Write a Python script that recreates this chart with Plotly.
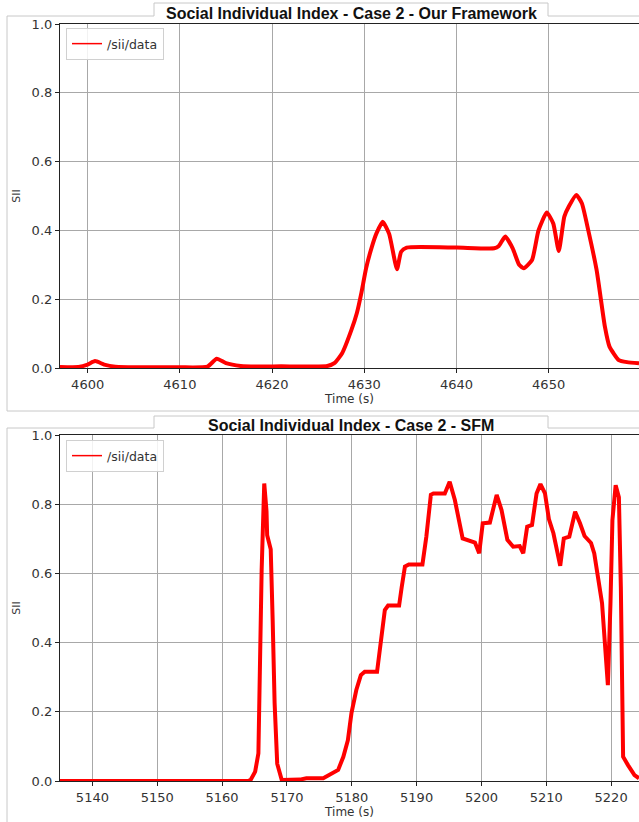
import plotly.graph_objects as go

# ---- data: top panel (Our Framework) ----
t_ours = [4597.0, 4599.0, 4600.0, 4600.8, 4601.8, 4603.0, 4606.0, 4610.0, 4613.0, 4614.0,
          4615.0, 4616.6, 4619.0, 4621.0, 4623.0, 4626.0, 4626.8, 4627.6, 4628.6, 4629.2,
          4629.7, 4630.2, 4630.8, 4631.3, 4632.0, 4632.7, 4633.55, 4634.0, 4634.6, 4640.0,
          4644.1, 4644.6, 4645.3, 4646.1, 4646.8, 4647.3, 4648.2, 4648.9, 4649.8, 4650.5,
          4651.1, 4651.7, 4652.2, 4653.0, 4653.6, 4654.3, 4655.2, 4656.1, 4656.6, 4657.6,
          4658.5, 4659.8]
sii_ours = [0.003, 0.003, 0.010, 0.020, 0.010, 0.004, 0.002, 0.002, 0.004, 0.027,
            0.014, 0.006, 0.004, 0.005, 0.004, 0.006, 0.015, 0.043, 0.110, 0.160,
            0.220, 0.290, 0.350, 0.390, 0.425, 0.390, 0.287, 0.338, 0.350, 0.350,
            0.348, 0.355, 0.382, 0.348, 0.300, 0.290, 0.314, 0.400, 0.452, 0.420,
            0.340, 0.440, 0.470, 0.503, 0.479, 0.400, 0.285, 0.120, 0.062, 0.023,
            0.017, 0.014]

# ---- data: bottom panel (SFM) ----
t_sfm = [5135.0, 5164.0, 5164.4, 5165.1, 5165.6, 5165.8, 5166.1, 5166.5, 5166.85, 5166.95,
         5167.5, 5167.8, 5168.1, 5168.5, 5169.2, 5172.0, 5173.0, 5175.6, 5176.9, 5177.9,
         5178.7, 5179.4, 5179.95, 5180.7, 5181.4, 5182.0, 5183.9, 5184.4, 5185.1, 5185.6,
         5187.3, 5187.7, 5188.2, 5188.8, 5190.9, 5191.5, 5192.2, 5192.6, 5194.35, 5195.1,
         5195.9, 5197.1, 5199.0, 5199.65, 5200.2, 5201.3, 5202.35, 5203.1, 5204.0, 5204.9,
         5205.9, 5206.45, 5207.05, 5207.8, 5208.5, 5209.1, 5209.8, 5210.4, 5211.1, 5212.15,
         5212.7, 5213.55, 5214.45, 5215.2, 5215.9, 5216.9, 5217.4, 5218.6, 5219.1, 5219.5,
         5219.9, 5220.2, 5220.7, 5221.2, 5221.5, 5221.85, 5222.6, 5223.6, 5224.3]
sii_sfm = [0.0, 0.0, 0.003, 0.027, 0.080, 0.320, 0.610, 0.860, 0.780, 0.710,
           0.670, 0.465, 0.225, 0.050, 0.003, 0.004, 0.008, 0.008, 0.022, 0.032,
           0.070, 0.118, 0.196, 0.263, 0.306, 0.316, 0.316, 0.398, 0.494, 0.507,
           0.507, 0.560, 0.620, 0.626, 0.626, 0.706, 0.827, 0.831, 0.831, 0.865,
           0.812, 0.701, 0.689, 0.658, 0.745, 0.747, 0.827, 0.783, 0.697, 0.677,
           0.679, 0.658, 0.735, 0.740, 0.831, 0.858, 0.831, 0.757, 0.716, 0.622,
           0.701, 0.706, 0.778, 0.745, 0.708, 0.688, 0.658, 0.514, 0.398, 0.277,
           0.514, 0.754, 0.855, 0.820, 0.561, 0.070, 0.046, 0.017, 0.008]

titles = ["Social Individual Index - Case 2 - Our Framework",
          "Social Individual Index - Case 2 - SFM"]
series_name = "/sii/data"
y_ticks = [0.0, 0.2, 0.4, 0.6, 0.8, 1.0]

RED = "#ff0000"
FONT = "DejaVu Sans"
W, H = 639, 822
ML, MR, MT, MB = 60, 0, 24, 41
PW = W - ML - MR
PH = H - MT - MB


def px_x(px):
    return (px - ML) / PW


def px_y(py):
    return (H - MB - py) / PH


fig = go.Figure()
fig.add_trace(go.Scatter(x=t_ours, y=sii_ours, mode="lines", showlegend=False,
                         line=dict(color=RED, width=4, shape="spline", smoothing=0.5),
                         xaxis="x", yaxis="y"))
fig.add_trace(go.Scatter(x=[None], y=[None], mode="lines", name=series_name,
                         line=dict(color=RED, width=1.5), xaxis="x", yaxis="y", legend="legend"))
fig.add_trace(go.Scatter(x=t_sfm, y=sii_sfm, mode="lines", showlegend=False,
                         line=dict(color=RED, width=4),
                         xaxis="x2", yaxis="y2"))
fig.add_trace(go.Scatter(x=[None], y=[None], mode="lines", name=series_name,
                         line=dict(color=RED, width=1.5), xaxis="x2", yaxis="y2", legend="legend2"))

axis_common = dict(
    showgrid=True, gridcolor="#a8a8a8", gridwidth=1,
    showline=True, linecolor="#222222", linewidth=1.2, mirror=True,
    ticks="outside", ticklen=4, tickcolor="#222222",
    tickfont=dict(family=FONT, size=13, color="#333333"),
    zeroline=False,
)
xtitle_font = dict(family=FONT, size=12, color="#333333")
ytitle_font = dict(family=FONT, size=11, color="#333333")

top_dom = [px_y(368), px_y(24)]
bot_dom = [px_y(781), px_y(435)]

fig.update_layout(
    width=W, height=H,
    margin=dict(l=ML, r=MR, t=MT, b=MB),
    paper_bgcolor="white", plot_bgcolor="white",
    font=dict(family=FONT, size=12, color="#333333"),
    xaxis=dict(axis_common, domain=[0, 1], anchor="y", range=[4597.0, 4659.8], dtick=10,
               tick0=4600,
               title=dict(text="Time (s)", font=xtitle_font, standoff=3)),
    yaxis=dict(axis_common, domain=top_dom, anchor="x", range=[0, 1],
               tickvals=y_ticks, tickformat=".1f",
               title=dict(text="SII", font=ytitle_font, standoff=8)),
    xaxis2=dict(axis_common, domain=[0, 1], anchor="y2", range=[5135.0, 5224.3], dtick=10,
                tick0=5140,
                title=dict(text="Time (s)", font=xtitle_font, standoff=3)),
    yaxis2=dict(axis_common, domain=bot_dom, anchor="x2", range=[0, 1],
                tickvals=y_ticks, tickformat=".1f",
                title=dict(text="SII", font=ytitle_font, standoff=8)),
    legend=dict(x=px_x(66), y=px_y(28), xanchor="left", yanchor="top",
                bgcolor="rgba(255,255,255,0.85)", bordercolor="#d0d0d0", borderwidth=1,
                font=dict(family=FONT, size=12.5, color="#333333")),
    legend2=dict(x=px_x(66), y=px_y(440), xanchor="left", yanchor="top",
                 bgcolor="rgba(255,255,255,0.85)", bordercolor="#d0d0d0", borderwidth=1,
                 font=dict(family=FONT, size=12.5, color="#333333")),
)

# frame decorations around each panel (title tab)
frame_col = "#c8c8c8"
shapes = []
for (y_line, y_tab, y_bottom) in [(16, 3, 411), (428, 416, 830)]:
    path = (f"M {px_x(7)},{px_y(y_bottom)} L {px_x(7)},{px_y(y_line)} "
            f"L {px_x(154)},{px_y(y_line)} L {px_x(154)},{px_y(y_tab)} "
            f"L {px_x(548)},{px_y(y_tab)} L {px_x(548)},{px_y(y_line)} "
            f"L {px_x(645)},{px_y(y_line)}")
    shapes.append(dict(type="path", xref="paper", yref="paper", path=path,
                       line=dict(color=frame_col, width=1), layer="below"))
shapes.append(dict(type="line", xref="paper", yref="paper",
                   x0=px_x(7), x1=px_x(645), y0=px_y(411), y1=px_y(411),
                   line=dict(color=frame_col, width=1), layer="below"))
fig.update_layout(shapes=shapes)

for text, py in [(titles[0], 13), (titles[1], 426)]:
    fig.add_annotation(text=f"<b>{text}</b>", xref="paper", yref="paper",
                       x=px_x(351), y=px_y(py), xanchor="center", yanchor="middle",
                       showarrow=False,
                       font=dict(family="Liberation Sans", size=16, color="#111111"))

fig.write_html("out.html",
               config={"displayModeBar": False},
               post_script="document.body.style.margin='0';document.body.style.overflow='hidden';")
